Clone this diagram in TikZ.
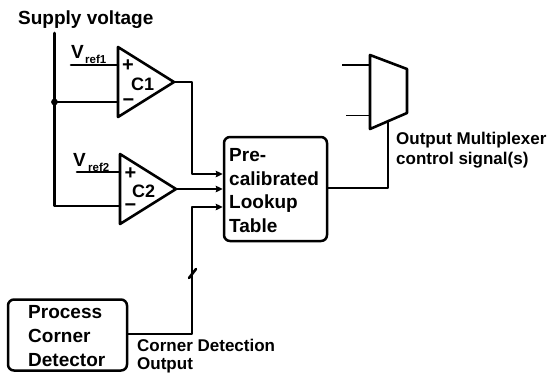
\documentclass[tikz,border=0pt]{standalone}
\usepackage{fontspec}
\setmainfont{Liberation Sans}
\usetikzlibrary{arrows.meta}
\newcommand{\fsz}[1]{\bfseries\fontsize{#1}{#1}\selectfont}
\tikzset{
  x=1pt,y=-1pt,
  wire/.style={line width=2.6pt,line cap=round,line join=round},
  fine/.style={line width=1.9pt},
  tip/.style={-{Stealth[length=7pt,width=6.5pt,inset=1pt]}},
  blockbox/.style={draw,line width=2.5pt,rounded corners=6pt,inner sep=0pt},
  big/.style={font=\fsz{19},inner sep=0pt,anchor=base west},
  small/.style={font=\fsz{17},inner sep=0pt,anchor=base west},
  subs/.style={font=\fsz{11.5},inner sep=0pt,anchor=base west},
  pin/.style={font=\fsz{20},inner sep=0pt},
  cname/.style={font=\fsz{18},inner sep=0pt,anchor=base west},
}
\begin{document}
\begin{tikzpicture}
\useasboundingbox (0,0) rectangle (548,373);
% comparators
\draw[wire] (118,47) -- (118,117) -- (174,82) -- cycle;
\draw[wire] (120,154) -- (120,224) -- (176,189) -- cycle;
\coordinate (c1out) at (174,82);
\coordinate (c2out) at (176,189);
\coordinate (c1p) at (118,65);
\coordinate (c1m) at (118,102);
\coordinate (c2p) at (120,172);
\coordinate (c2m) at (120,206);
\coordinate (vr1) at (71,65);
\coordinate (vr2) at (77,172);
\coordinate (sup) at (54.5,33);
\coordinate (jn) at (54.5,102);
\coordinate (sb) at (54.5,206);
\node[blockbox,minimum width=103pt,minimum height=104pt] (lut) at (275.5,189) {};
\node[blockbox,minimum width=119pt,minimum height=71pt] (pcd) at (67.5,335) {};
% labels
\node[big] (t1) at (18,24) {Supply voltage};
\node[big] (v1) at (71,58) {V};
\node[subs] (v1s) at (85,63.5) {ref1};
\node[big] (v2) at (73,166) {V};
\node[subs] (v2s) at (88,171) {ref2};
\node[pin] (p1) at (128,65.5) {+};
\node[pin] (m1) at (128.5,102.5) {−};
\node[pin] (p2) at (130.5,173.5) {+};
\node[pin] (m2) at (130.5,207.5) {−};
\node[cname] (c1) at (131,90) {C1};
\node[cname] (c2) at (132,197) {C2};
\node[big] (l1) at (229,161) {Pre-};
\node[big] (l2) at (229,185) {calibrated};
\node[big] (l3) at (229,208) {Lookup};
\node[big] (l4) at (229,232) {Table};
\node[big] (d1) at (28,318) {Process};
\node[big] (d2) at (28,342) {Corner};
\node[big] (d3) at (28,366) {Detector};
\node[small] (o1) at (396,144) {Output Multiplexer};
\node[small] (o2) at (396,164) {control signal(s)};
\node[small] (k1) at (137,351) {Corner Detection};
\node[small] (k2) at (137,369) {Output};
% multiplexer
\draw[wire] (370,55) -- (407,69) -- (407,113) -- (370,129) -- cycle;
\coordinate (mi1) at (370,64.7);
\coordinate (mi2) at (370,115.5);
\coordinate (mf1) at (342,64.7);
\coordinate (mf2) at (346,115.5);
\coordinate (mo) at (388,121);
% wires
\draw[wire] (sup) -- (sb) -- (c2m);
\draw[wire] (jn) -- (c1m);
\fill (jn) circle (3.4pt);
\draw[wire] (vr1) -- (c1p);
\draw[wire] (vr2) -- (c2p);
\draw[wire,tip] (c1out) -| (192,174) -- (lut.west |- 0,174);
\draw[fine,tip] (c2out) -- (lut.west |- 0,189);
\draw[wire,tip] (pcd.east |- 0,334) -| (192,207) -- (lut.west |- 0,207);
\draw[wire] (189,278) -- (196,269);
\draw[wire] (lut.east |- 0,188) -| (mo);
\draw[fine] (mf1) -- (mi1);
\draw[fine] (mf2) -- (mi2);
\end{tikzpicture}
\end{document}
